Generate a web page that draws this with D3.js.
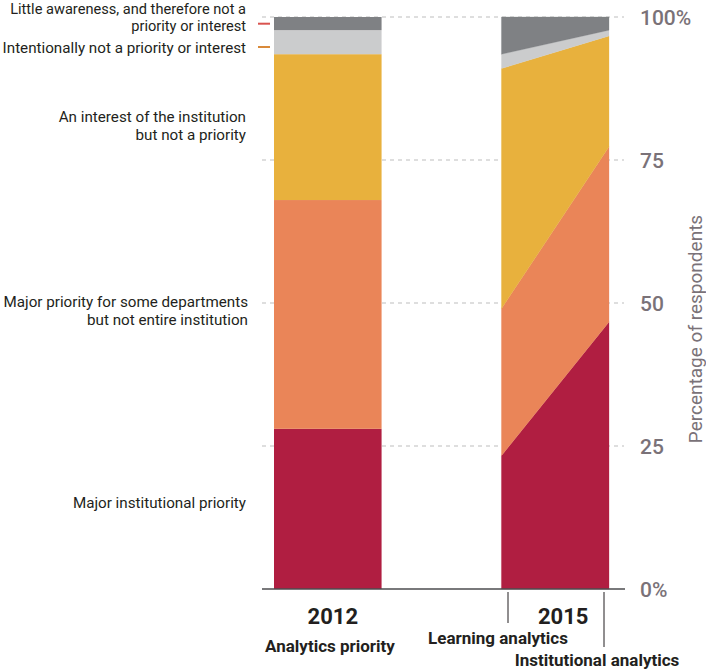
<!DOCTYPE html>
<html><head><meta charset="utf-8">
<script src="https://cdn.jsdelivr.net/npm/d3@7"></script>
<style>body{margin:0;background:#fff}svg{display:block;font-family:Roboto,"Liberation Sans",sans-serif}</style>
</head><body><svg id="c" width="706" height="671"></svg>
<script>
const categories = ["Major institutional priority","Major priority for some departments but not entire institution","An interest of the institution but not a priority","Intentionally not a priority or interest","Little awareness, and therefore not a priority or interest"];
const labelLines = [["Major institutional priority"],["Major priority for some departments","but not entire institution"],["An interest of the institution","but not a priority"],["Intentionally not a priority or interest"],["Little awareness, and therefore not a","priority or interest"]];
const colors = ["#b01e41","#ea8558","#e8b13d","#cbcccd","#7f8184"];
const values2012 = [28, 40, 25.5, 4.2, 2.3];
const learning2015 = [23.3, 25.7, 42, 2.5, 6.5];
const institutional2015 = [46.7, 30.6, 19.4, 1.0, 2.3];
const years = ["2012","2015"];
const yTicks = [0,25,50,75,100];

const svg = d3.select("#c");
const y = d3.scaleLinear().domain([0,100]).range([589,17]);
const x = d3.scaleBand().domain(years).range([274,609]).paddingInner(0.527);
const bw = x.bandwidth();

function stackOf(vals){let c=0;return vals.map(v=>{const a=[c,c+v];c+=v;return a;});}
const s2012 = stackOf(values2012), sL = stackOf(learning2015), sI = stackOf(institutional2015);

// gridlines
svg.append("g").selectAll("line").data(yTicks.filter(t=>t>0)).join("line")
  .attr("x1",262).attr("x2",624).attr("y1",d=>y(d)).attr("y2",d=>y(d))
  .attr("stroke","#bdbdbd").attr("stroke-width",1).attr("stroke-dasharray","4,4");

// 2012 bar
svg.append("g").selectAll("rect").data(s2012).join("rect")
  .attr("x",x("2012")).attr("width",bw)
  .attr("y",d=>y(d[1])).attr("height",d=>y(d[0])-y(d[1]))
  .attr("fill",(d,i)=>colors[i]);

// 2015 sloped bar
const xe = d3.scaleLinear().domain([0,1]).range([x("2015"), x("2015")+bw]);
const area = d3.area().x(d=>xe(d.t)).y0(d=>y(d.lo)).y1(d=>y(d.hi));
svg.append("g").selectAll("path").data(categories.map((c,i)=>[{t:0,lo:sL[i][0],hi:sL[i][1]},{t:1,lo:sI[i][0],hi:sI[i][1]}])).join("path")
  .attr("d",area).attr("fill",(d,i)=>colors[i]).attr("stroke",(d,i)=>colors[i]).attr("stroke-width",0.3);

// baseline
svg.append("line").attr("x1",262).attr("x2",625).attr("y1",y(0)).attr("y2",y(0)).attr("stroke","#4d4d4f").attr("stroke-width",1.5);

// right axis
const ax = svg.append("g").attr("transform","translate(630,0)")
  .call(d3.axisRight(y).tickValues(yTicks).tickSize(0).tickPadding(10).tickFormat(d=>(d===0||d===100)?d+"%":d));
ax.select(".domain").remove();
ax.selectAll("text").attr("fill","#7a7278").attr("font-size",21).attr("font-weight",500).attr("font-family","Roboto,sans-serif").attr("dy","0.36em");
svg.append("text").attr("transform","translate(702,329) rotate(-90)").attr("text-anchor","middle")
  .attr("fill","#7a7278").attr("font-size",19).text("Percentage of respondents");

// left labels
const labelPos = [[508],[307,325],[122,140],[53],[13.5,30.5]];
const lab = svg.append("g").attr("fill","#231f20").attr("text-anchor","end");
labelLines.forEach((lines,i)=>{
  lines.forEach((t,j)=>{lab.append("text").attr("x",i===1?248:246).attr("y",labelPos[i][j])
    .attr("font-size",i===4?14.6:15.2).text(t);});
});
// markers
svg.append("line").attr("x1",258).attr("x2",270).attr("y1",23.7).attr("y2",23.7).attr("stroke","#d9534f").attr("stroke-width",2);
svg.append("line").attr("x1",258).attr("x2",270).attr("y1",47).attr("y2",47).attr("stroke","#d98a3a").attr("stroke-width",2);

// bottom labels
const bl = svg.append("g").attr("fill","#231f20").attr("font-weight",700).attr("text-anchor","middle");
bl.append("text").attr("x",x("2012")+bw/2+5).attr("y",624).attr("font-size",22).text("2012");
bl.append("text").attr("x",x("2015")+bw/2+8).attr("y",624).attr("font-size",22).text("2015");
bl.append("text").attr("x",330).attr("y",652).attr("font-size",17).text("Analytics priority");
bl.append("text").attr("x",498).attr("y",644).attr("font-size",17).text("Learning analytics");
bl.append("text").attr("x",597).attr("y",666).attr("font-size",17).text("Institutional analytics");
svg.append("line").attr("x1",508).attr("x2",508).attr("y1",592).attr("y2",623).attr("stroke","#231f20").attr("stroke-width",1);
svg.append("line").attr("x1",604).attr("x2",604).attr("y1",592).attr("y2",647).attr("stroke","#231f20").attr("stroke-width",1);
</script></body></html>
